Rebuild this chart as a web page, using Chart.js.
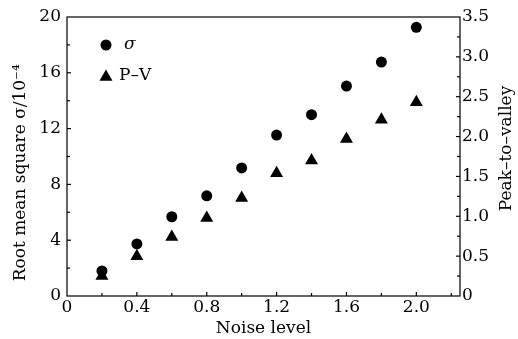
<!DOCTYPE html>
<html>
<head>
<meta charset="utf-8">
<script src="https://cdn.jsdelivr.net/npm/chart.js@4.4.1/dist/chart.umd.min.js"></script>
<style>
  html, body { margin: 0; padding: 0; background: #fff; }
  #wrap { width: 518px; height: 339px; position: relative; }
</style>
</head>
<body>
<div id="wrap"><canvas id="grafico"></canvas></div>
<script>
'use strict';

// ── dati ───────────────────────────────────────────────────────
const noiseLevels = [0.2, 0.4, 0.6, 0.8, 1.0, 1.2, 1.4, 1.6, 1.8, 2.0];
const sigmaValues = [1.8, 3.73, 5.68, 7.18, 9.18, 11.54, 13.0, 15.05, 16.77, 19.26];
const pvValues    = [0.25, 0.50, 0.74, 0.98, 1.23, 1.54, 1.70, 1.97, 2.21, 2.43];

const xTicks     = [0, 0.4, 0.8, 1.2, 1.6, 2.0];
const leftTicks  = [0, 4, 8, 12, 16, 20];
const rightTicks = [0, 0.5, 1.0, 1.5, 2.0, 2.5, 3.0, 3.5];

const FONT = "'DejaVu Serif', serif";
Chart.defaults.font.family = FONT;
Chart.defaults.font.size = 17;
Chart.defaults.color = '#000';

function fmt1(v) { return v === 0 ? '0' : v.toFixed(1); }

// cornice + tacche verso l'interno
const framePlugin = {
  id: 'frame',
  afterDraw(chart) {
    const { ctx, chartArea: a, scales } = chart;
    ctx.save();
    ctx.strokeStyle = '#000';
    ctx.lineWidth = 1.2;
    ctx.strokeRect(a.left, a.top, a.right - a.left, a.bottom - a.top);

    const tick = (x1, y1, x2, y2) => { ctx.beginPath(); ctx.moveTo(x1, y1); ctx.lineTo(x2, y2); ctx.stroke(); };

    for (let v = 0.2; v < 2.25; v += 0.2) {
      const px = scales.x.getPixelForValue(v);
      const major = Math.abs(v / 0.4 - Math.round(v / 0.4)) < 1e-6;
      tick(px, a.bottom, px, a.bottom - (major ? 4 : 3));
    }
    for (let v = 2; v < 20; v += 2) {
      const py = scales.y.getPixelForValue(v);
      tick(a.left, py, a.left + (v % 4 === 0 ? 4 : 3), py);
    }
    for (let v = 0.25; v < 3.5; v += 0.25) {
      const py = scales.y2.getPixelForValue(v);
      const major = Math.abs(v * 2 - Math.round(v * 2)) < 1e-6;
      tick(a.right, py, a.right - (major ? 4 : 3), py);
    }

    // titolo asse destro, letto dal basso verso l'alto
    const t = chart.options.scales.y2.title;
    ctx.fillStyle = '#000';
    ctx.font = '17px ' + FONT;
    ctx.textAlign = 'center';
    ctx.textBaseline = 'middle';
    ctx.translate(507, (a.top + a.bottom) / 2 - 8);
    ctx.rotate(-Math.PI / 2);
    ctx.fillText(t.text, 0, 0);
    ctx.restore();
  }
};

// legenda dentro l'area del grafico
const legendPlugin = {
  id: 'innerLegend',
  afterDraw(chart) {
    const { ctx, chartArea: a } = chart;
    const rows = [
      { y: 45, textX: 124, italic: true },
      { y: 77, textX: 119, italic: false }
    ];
    ctx.save();
    chart.data.datasets.forEach((ds, i) => {
      const r = rows[i];
      ctx.fillStyle = '#000';
      ctx.strokeStyle = '#000';
      Chart.helpers.drawPoint(ctx, {
        pointStyle: ds.pointStyle,
        radius: ds.pointRadius,
        borderWidth: 0,
        rotation: 0
      }, a.left + 39, r.y);
      ctx.font = (r.italic ? 'italic ' : '') + '17px ' + FONT;
      ctx.textAlign = 'left';
      ctx.textBaseline = 'middle';
      ctx.fillText(ds.label, r.textX, r.y - (i === 1 ? 1 : 0));
    });
    ctx.restore();
  }
};

const ctxCanvas = document.getElementById('grafico').getContext('2d');

new Chart(ctxCanvas, {
  type: 'scatter',
  data: {
    datasets: [
      {
        label: 'σ',
        data: noiseLevels.map((x, i) => ({ x, y: sigmaValues[i] })),
        yAxisID: 'y',
        pointStyle: 'circle',
        pointRadius: 5.5,
        pointBorderWidth: 0,
        backgroundColor: '#000',
        borderColor: '#000'
      },
      {
        label: 'P–V',
        data: noiseLevels.map((x, i) => ({ x, y: pvValues[i] })),
        yAxisID: 'y2',
        pointStyle: 'triangle',
        pointRadius: 7.5,
        pointBorderWidth: 0,
        backgroundColor: '#000',
        borderColor: '#000'
      }
    ]
  },
  options: {
    responsive: true,
    maintainAspectRatio: false,
    animation: false,
    layout: { padding: { top: 17, left: 0, right: 0, bottom: 0 } },
    plugins: { legend: { display: false }, tooltip: { enabled: false } },
    scales: {
      x: {
        type: 'linear', min: 0, max: 2.25,
        grid: { display: false, drawTicks: false }, border: { display: false },
        afterBuildTicks(s) { s.ticks = xTicks.map(v => ({ value: v })); },
        afterFit(s) { s.height = 43; },
        ticks: { padding: 1, maxRotation: 0, callback: v => fmt1(v) },
        title: { display: true, text: 'Noise level', padding: { top: 0, bottom: 0 } }
      },
      y: {
        type: 'linear', position: 'left', min: 0, max: 20,
        grid: { display: false, drawTicks: false }, border: { display: false },
        afterBuildTicks(s) { s.ticks = leftTicks.map(v => ({ value: v })); },
        afterFit(s) { s.width = 67; },
        ticks: { padding: 6, callback: v => String(v) },
        title: { display: true, text: 'Root mean square σ/10⁻⁴      ', padding: { top: 10, bottom: 0 } }
      },
      y2: {
        type: 'linear', position: 'right', min: 0, max: 3.5,
        grid: { display: false, drawTicks: false }, border: { display: false },
        afterBuildTicks(s) { s.ticks = rightTicks.map(v => ({ value: v })); },
        afterFit(s) { s.width = 58; },
        ticks: { padding: 2, callback: v => fmt1(v) },
        title: { display: false, text: 'Peak–to–valley' }
      }
    }
  },
  plugins: [framePlugin, legendPlugin]
});
</script>
</body>
</html>
